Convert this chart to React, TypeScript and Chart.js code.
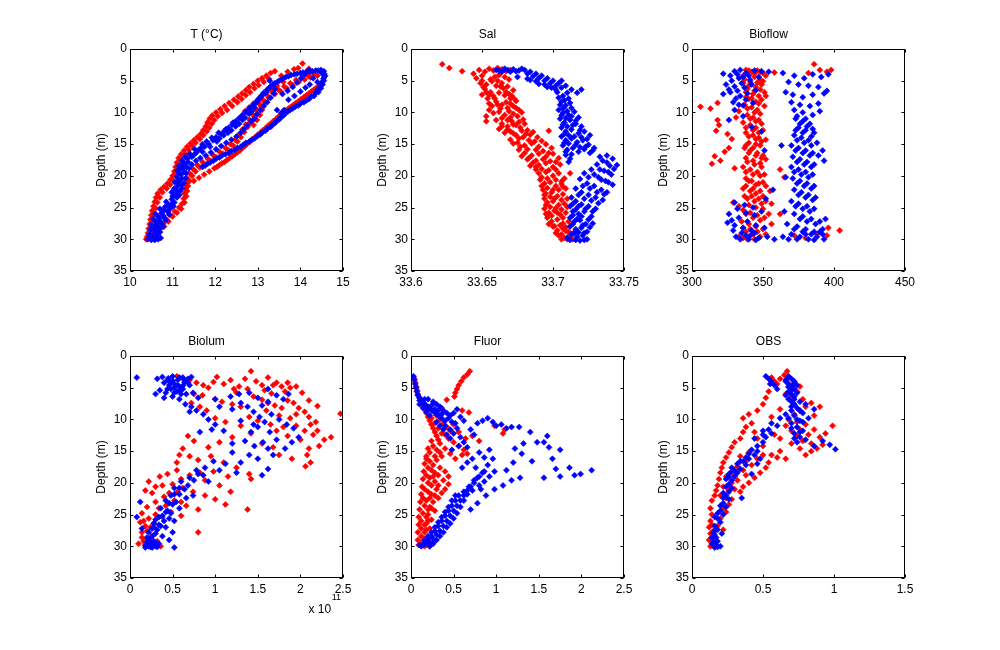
import { useEffect, useRef } from "react";
import { Chart, registerables } from "chart.js";

Chart.register(...registerables);

type P = [number, number];

// ---------- tick labels ----------
const depthTicks = [0, 5, 10, 15, 20, 25, 30, 35];
const tTicks = [10, 11, 12, 13, 14, 15];
const salTicks = [33.6, 33.65, 33.7, 33.75];
const bioflowTicks = [300, 350, 400, 450];
const biolumTicks = [0, 0.5, 1, 1.5, 2, 2.5]; // x 10^11
const fluorTicks = [0, 0.5, 1, 1.5, 2, 2.5];
const obsTicks = [0, 0.5, 1, 1.5];
const panelTitles = ["T (°C)", "Sal", "Bioflow", "Biolum", "Fluor", "OBS"];
const depthLabel = "Depth (m)";
const biolumExponent = "11";

// ---------- data: [value, depth] ----------
const tRed: P[] = [
  [10.38,30.0],[10.40,29.6],[10.42,29.0],[10.44,28.3],[10.46,27.6],[10.48,26.9],[10.50,26.2],[10.52,25.5],[10.55,24.8],[10.58,24.1],[10.61,23.4],[10.65,22.8],[10.72,22.2],[10.80,21.7],[10.88,21.2],[10.95,20.6],[11.00,20.0],[11.04,19.3],[11.07,18.6],[11.10,17.9],[11.14,17.2],[11.20,16.6],[11.27,16.0],[11.34,15.4],[11.42,14.9],[11.50,14.4],[11.58,13.9],[11.66,13.4],[11.72,12.8],[11.78,12.2],[11.82,11.6],[11.87,11.0],[11.93,10.5],[12.02,10.0],[12.12,9.5],[12.22,9.0],[12.33,8.5],[12.44,8.0],[12.54,7.5],[12.63,7.0],[12.72,6.5],[12.80,6.0],[12.90,5.5],[13.00,5.0],[13.10,4.6],[13.20,4.2],[13.30,3.8],[13.40,3.5],
  [10.65,29.0],[10.72,28.3],[10.78,27.6],[10.86,26.9],[10.95,26.2],[11.05,25.6],[11.15,25.0],[11.22,24.4],[11.26,23.6],[11.28,22.8],[11.30,22.0],[11.32,21.2],[11.35,20.4],[11.40,19.6],[11.48,18.9],[11.58,18.3],[11.70,17.8],[11.83,17.3],[11.96,16.8],[12.10,16.2],[12.24,15.6],[12.36,15.0],[12.47,14.3],[12.56,13.5],[12.64,12.7],[12.72,11.9],[12.80,11.1],[12.88,10.3],[12.96,9.5],[13.04,8.7],[13.12,8.0],[13.22,7.3],[13.34,6.8],[13.48,6.4],[13.62,5.9],[13.76,5.4],[13.90,4.9],[14.04,4.5],[14.18,4.2],[14.32,4.0],
  [11.50,20.8],[11.62,20.3],[11.74,19.8],[11.86,19.3],[11.98,18.8],[12.10,18.3],[12.22,17.8],[12.34,17.2],[12.46,16.6],[12.58,16.0],[12.70,15.3],[12.82,14.6],[12.94,13.9],[13.06,13.2],[13.18,12.5],[13.30,11.8],[13.42,11.1],[13.54,10.4],[13.66,9.7],[13.78,9.1],[13.90,8.5],[14.02,7.9],[14.14,7.3],[14.26,6.7],[14.38,6.1],[14.48,5.5],
  [12.70,9.8],[12.80,9.2],[12.90,8.6],[13.00,8.0],[13.10,9.6],[13.05,10.4],[12.98,11.2],[12.90,12.0],
  [13.55,4.2],[13.70,3.6],[13.85,3.2],[14.05,2.3],[13.60,5.2],[13.45,5.8],[13.30,6.3],[13.95,3.0],[14.20,3.1],
  [10.44,29.8],[10.48,28.8],[10.50,27.9],[10.54,27.0],[10.56,26.0],[10.60,25.1],[10.64,24.2],[10.70,23.4],[10.76,22.6],[10.86,22.0],[10.94,21.4],[11.02,20.8],[11.08,20.0],[11.12,19.0],[11.16,18.2],[11.22,17.4],[11.30,16.6],[11.38,15.9],[11.46,15.3],[11.54,14.8],[11.64,14.2],[11.72,13.6],[11.80,13.0],[11.86,12.4],[11.92,11.8],[11.98,11.2],[12.06,10.6],[12.16,10.1],[12.28,9.6],[12.40,9.0],[12.52,8.4],[12.62,7.9],[12.72,7.3],[12.82,6.8],[12.92,6.2],[13.02,5.7],[13.14,5.2],[13.26,4.7],
  [10.70,28.8],[10.80,28.0],[10.90,27.2],[11.00,26.4],[11.10,25.8],[11.20,25.2],[11.28,24.2],[11.32,23.2],[11.34,22.4],[11.36,21.6],[11.40,20.8],[11.46,20.0],[11.54,19.3],[11.64,18.7],[11.76,18.2],[11.90,17.7],[12.04,17.1],[12.18,16.5],[12.30,15.9],[12.42,15.2],[12.52,14.6],[12.60,13.9],[12.68,13.1],[12.76,12.3],[12.84,11.5],[12.92,10.7],[13.00,9.9],[13.08,9.1],[13.16,8.4],[13.26,7.7],[13.40,7.1],[13.54,6.7],[13.68,6.2],[13.82,5.7],[13.96,5.2],[14.10,4.8],[14.24,4.5],[14.40,4.2],
  [12.04,18.6],[12.16,18.0],[12.28,17.5],[12.40,16.9],[12.52,16.3],[12.64,15.6],[12.76,14.9],[12.88,14.2],[13.00,13.5],[13.12,12.8],[13.24,12.1],[13.36,11.4],[13.48,10.7],[13.60,10.0],[13.72,9.4],[13.84,8.8],[13.96,8.2],[14.08,7.6],[14.20,7.0],[14.32,6.4],[14.44,5.8]
];
const tBlue: P[] = [
  [10.42,30.0],[10.50,30.1],[10.58,30.1],[10.66,30.0],[10.72,29.8],[10.45,29.3],[10.55,29.2],[10.65,29.3],[10.48,28.5],[10.58,28.5],[10.68,28.4],[10.50,27.7],[10.62,27.6],[10.74,27.5],[10.55,26.8],[10.68,26.7],[10.80,26.6],[10.60,26.0],[10.74,25.9],[10.88,25.6],[10.70,25.2],[10.82,24.9],[10.96,24.5],[10.85,24.1],[10.98,23.7],[11.05,23.0],[10.98,22.6],[11.08,22.2],[11.12,21.6],[11.05,21.0],[11.15,20.8],[11.10,20.2],[11.20,19.8],[11.12,19.2],[11.24,18.8],[11.15,18.4],[11.28,18.0],[11.22,17.6],[11.35,17.3],[11.45,17.0],[11.40,16.5],[11.55,16.4],[11.62,15.9],[11.70,16.2],[11.75,15.4],[11.85,15.0],[11.80,14.6],[11.95,14.4],[12.02,13.9],[12.10,14.1],[12.15,13.4],[12.22,12.9],[12.30,13.2],[12.32,12.4],[12.40,11.9],[12.48,12.2],[12.48,11.4],[12.56,10.9],[12.64,11.2],[12.64,10.4],[12.72,9.9],[12.80,10.2],[12.80,9.4],[12.88,8.9],[12.96,8.4],[13.02,7.9],[13.08,7.4],[13.14,6.9],[13.22,6.4],[13.30,5.9],[13.40,5.4],[13.50,5.0],[13.60,4.6],[13.72,4.3],[13.86,4.0],[14.00,3.8],[14.14,3.6],[14.28,3.5],[14.42,3.4],[14.55,3.5],[14.56,3.9],
  [13.28,5.0],[13.36,5.6],[13.40,6.3],[13.38,7.0],[13.30,7.7],[13.22,8.4],[13.14,9.0],[13.06,9.6],[12.98,10.3],[12.92,11.0],
  [14.56,4.4],[14.55,5.0],[14.52,5.6],[14.48,6.2],[14.42,6.8],[14.32,7.4],[14.20,7.9],[14.08,8.4],[13.95,8.9],[13.82,9.4],[13.70,9.9],[13.60,10.5],[13.50,11.1],[13.40,11.7],[13.30,12.3],[13.18,12.9],[13.05,13.5],[12.92,14.1],[12.80,14.6],[12.66,15.1],[12.52,15.6],[12.38,16.1],[12.24,16.6],[12.10,17.1],[11.96,17.6],[11.82,18.1],[11.70,18.6],
  [14.20,3.3],[14.10,4.0],[14.02,4.6],[13.92,5.3],[13.82,6.0],[13.70,6.6],[13.58,7.1],[14.30,4.6],[14.40,5.2],[14.22,5.6],[14.12,6.1],[14.00,6.7],[13.86,7.4],[13.72,8.0],
  [10.52,29.6],[10.62,29.7],[10.60,28.9],[10.70,28.9],[10.56,28.1],[10.66,28.0],[10.78,28.0],[10.60,27.2],[10.70,27.1],[10.84,27.0],[10.66,26.4],[10.78,26.3],[10.92,26.1],[10.80,25.4],[10.94,25.2],[11.02,24.8],[10.90,24.6],[11.04,24.2],[11.10,23.4],[11.00,23.2],[11.12,22.8],[11.18,22.4],[11.04,22.0],[11.20,21.4],[11.14,21.2],[11.22,20.4],[11.16,19.6],[11.28,19.4],[11.20,18.8],[11.32,18.6],[11.26,18.2],[11.36,17.8],[11.30,17.0],[11.48,16.8],[11.52,15.8],[11.66,15.6],[11.70,15.0],[11.88,15.4],[11.92,14.0],[12.04,14.6],[12.08,13.2],[12.20,13.6],[12.26,12.6],[12.38,12.8],[12.42,11.6],[12.56,11.8],[12.60,10.8],[12.70,10.8],[12.76,10.0],[12.86,9.8],[12.92,9.2],[12.94,8.6],[13.00,8.2],[13.06,7.6],[13.12,7.2],[13.20,6.8],[13.26,6.2],[13.36,5.6],[13.46,5.2],[13.56,4.8],[13.66,4.4],[13.78,4.1],[13.92,3.9],[14.06,3.7],[14.22,3.6],[14.36,3.4],[14.48,3.3],[14.50,3.8],[14.58,4.2],[14.54,4.7],[14.50,5.3],[14.46,5.9],[14.40,6.4],[14.36,6.9],[14.26,7.5],[14.14,8.1],[14.00,8.6],[13.88,9.1],[13.76,9.6],[13.64,10.2],[13.54,10.8],[13.44,11.4],[13.34,12.0],[13.22,12.6],[13.10,13.2],[12.98,13.8],[12.86,14.3],[12.72,14.8],[12.60,15.4],[12.46,15.9],[12.32,16.4],[12.16,16.8],[12.02,17.3],[11.88,17.9],[11.76,18.4],
  [11.55,17.6],[11.65,17.2],[11.78,16.8],[11.90,16.3],[12.02,15.8],[12.14,15.3],[12.26,14.8],[12.38,14.3],[12.50,13.8],[12.60,13.2],[12.68,12.6],[12.76,12.0],[12.84,11.4],[11.45,18.2],[11.38,18.8],[11.32,19.6],[11.30,20.4],[11.26,21.2],[11.22,22.0],[11.16,23.0],[13.45,9.6],[13.55,10.1],[13.62,9.6]
];

const salRed: P[] = [
  [33.622,2.4],[33.627,3.0],[33.636,3.5],[33.644,3.9],[33.648,3.3],[33.650,4.2],[33.652,3.6],[33.655,3.1],[33.658,3.4],[33.661,3.0],[33.664,3.2],[33.667,3.5],[33.670,3.3],[33.650,5.0],[33.653,5.6],[33.656,4.8],[33.659,4.4],[33.662,4.1],[33.666,4.4],[33.669,4.8],[33.652,6.3],[33.656,6.8],[33.660,5.8],[33.664,5.4],[33.668,5.9],[33.672,6.5],[33.650,7.2],[33.654,7.8],[33.658,7.4],[33.662,6.9],[33.666,7.3],[33.670,7.8],[33.674,8.2],[33.655,8.6],[33.660,8.3],[33.664,8.8],[33.668,9.3],[33.672,9.0],[33.676,9.6],[33.655,9.6],[33.658,10.1],[33.662,9.9],[33.666,10.4],[33.670,10.8],[33.675,10.6],[33.679,11.1],[33.653,10.6],[33.653,11.4],[33.660,11.2],[33.664,11.8],[33.668,12.2],[33.672,11.9],[33.677,12.4],[33.682,12.8],[33.662,12.6],[33.666,13.2],[33.670,13.0],[33.674,13.6],[33.679,13.9],[33.684,13.5],[33.689,13.9],[33.697,12.9],[33.670,14.3],[33.675,14.8],[33.680,15.2],[33.685,14.9],[33.690,15.4],[33.695,15.0],[33.699,15.6],[33.676,15.9],[33.680,16.4],[33.685,16.8],[33.690,16.5],[33.695,17.0],[33.700,16.5],[33.704,17.2],[33.682,17.4],[33.686,17.9],[33.690,18.3],[33.695,18.0],[33.700,18.6],[33.705,18.2],[33.688,19.0],[33.690,19.6],[33.695,19.4],[33.700,20.0],[33.704,19.6],[33.712,19.6],[33.708,20.4],[33.691,20.6],[33.694,21.2],[33.698,21.0],[33.702,21.6],[33.706,21.3],[33.709,22.0],[33.693,22.2],[33.695,22.8],[33.699,22.6],[33.703,23.2],[33.707,22.9],[33.710,23.6],[33.694,23.6],[33.696,24.2],[33.700,24.0],[33.704,24.6],[33.708,24.4],[33.694,25.2],[33.697,25.8],[33.701,25.5],[33.705,26.1],[33.709,25.8],[33.696,26.6],[33.699,27.2],[33.703,26.9],[33.707,27.5],[33.711,27.2],[33.700,28.0],[33.703,28.6],[33.707,28.3],[33.711,28.8],[33.715,28.9],[33.704,29.4],[33.708,29.8],[33.711,29.5],[33.714,30.0],
  [33.646,4.6],[33.649,5.4],[33.651,6.0],[33.653,6.8],[33.655,7.2],[33.657,5.1],[33.661,5.0],[33.663,5.9],[33.665,6.2],[33.667,6.8],[33.669,7.1],[33.671,7.4],[33.673,7.9],[33.659,7.8],[33.657,9.0],[33.661,8.8],[33.663,9.4],[33.667,8.4],[33.670,8.6],[33.674,9.3],[33.678,10.0],[33.669,9.8],[33.672,10.2],[33.676,11.5],[33.680,11.8],[33.664,10.9],[33.668,11.2],[33.671,11.4],[33.674,12.0],[33.678,12.9],[33.681,13.4],[33.686,13.1],[33.664,12.2],[33.668,12.7],[33.672,13.3],[33.676,14.1],[33.683,14.4],[33.687,14.6],[33.692,14.5],[33.672,14.9],[33.677,15.4],[33.682,15.8],[33.688,15.9],[33.693,16.1],[33.697,16.4],[33.678,16.9],[33.683,17.2],[33.688,17.6],[33.693,17.4],[33.698,17.7],[33.702,17.8],[33.684,18.4],[33.688,18.6],[33.692,18.9],[33.697,19.1],[33.702,19.0],[33.692,20.2],[33.696,20.4],[33.702,20.6],[33.706,20.9],[33.692,21.6],[33.696,21.9],[33.700,22.2],[33.704,22.2],[33.707,21.7],[33.694,23.0],[33.698,23.3],[33.701,23.6],[33.706,23.8],[33.695,24.6],[33.698,24.9],[33.702,25.1],[33.706,25.3],[33.710,24.9],[33.695,26.0],[33.699,26.3],[33.703,25.8],[33.707,26.6],[33.697,27.6],[33.701,27.9],[33.705,27.8],[33.709,28.1],[33.702,29.0],[33.706,29.2],[33.709,28.7],[33.713,29.3],[33.706,30.0],[33.710,30.0]
];
const salBlue: P[] = [
  [33.660,3.3],[33.664,3.6],[33.668,3.3],[33.672,3.2],[33.676,3.4],[33.680,3.3],[33.684,3.6],[33.688,3.9],[33.692,4.2],[33.696,4.6],[33.700,5.0],[33.704,5.4],[33.675,4.4],[33.682,4.7],[33.688,5.1],[33.694,5.6],[33.699,6.1],[33.706,5.0],[33.709,5.8],[33.713,6.4],[33.717,6.9],[33.720,6.4],[33.703,6.8],[33.707,7.4],[33.711,7.8],[33.706,8.3],[33.709,8.9],[33.713,9.3],[33.704,9.6],[33.707,10.1],[33.711,10.4],[33.715,9.9],[33.718,10.8],[33.705,11.0],[33.708,11.6],[33.712,11.2],[33.716,11.8],[33.720,12.2],[33.706,12.4],[33.709,13.0],[33.713,12.7],[33.718,13.3],[33.722,13.0],[33.726,13.6],[33.706,13.8],[33.709,14.4],[33.713,14.1],[33.717,14.7],[33.721,14.4],[33.725,15.1],[33.729,15.6],[33.707,15.2],[33.710,15.9],[33.714,15.6],[33.718,16.2],[33.722,15.8],[33.726,16.4],[33.709,16.7],[33.712,17.3],[33.738,16.8],[33.742,17.3],[33.745,18.3],[33.740,18.4],[33.735,17.6],[33.731,18.2],[33.736,19.2],[33.741,19.8],[33.727,19.0],[33.722,19.6],[33.732,20.2],[33.737,20.8],[33.742,21.4],[33.719,20.5],[33.724,21.2],[33.729,21.6],[33.734,22.2],[33.738,22.6],[33.716,22.0],[33.720,22.6],[33.725,23.0],[33.730,23.4],[33.735,23.8],[33.713,23.4],[33.716,24.0],[33.720,24.5],[33.725,24.8],[33.730,25.2],[33.712,24.8],[33.714,25.6],[33.718,26.0],[33.722,25.6],[33.727,26.4],[33.712,26.6],[33.715,27.2],[33.719,27.0],[33.723,27.6],[33.728,27.5],[33.712,28.0],[33.716,28.4],[33.720,28.2],[33.724,28.8],[33.713,29.2],[33.717,29.6],[33.721,29.4],[33.724,30.0],[33.716,30.1],[33.710,29.8],
  [33.662,3.4],[33.666,3.1],[33.670,3.6],[33.674,3.5],[33.678,3.1],[33.682,3.9],[33.686,4.3],[33.690,4.6],[33.694,5.0],[33.698,5.4],[33.702,5.8],[33.684,4.9],[33.690,5.5],[33.696,6.0],[33.702,6.4],[33.706,6.1],[33.710,6.9],[33.704,7.7],[33.708,8.1],[33.712,8.5],[33.705,8.8],[33.707,9.4],[33.710,9.8],[33.706,10.5],[33.709,10.9],[33.713,10.6],[33.716,11.3],[33.707,11.9],[33.710,12.2],[33.714,12.0],[33.719,12.8],[33.708,13.4],[33.711,13.6],[33.715,13.8],[33.720,13.9],[33.724,14.2],[33.708,14.8],[33.711,14.9],[33.716,15.1],[33.719,15.5],[33.723,15.4],[33.728,16.0],[33.709,16.2],[33.713,16.6],[33.711,17.8],[33.733,17.0],[33.738,17.9],[33.743,18.9],[33.739,19.4],[33.733,19.0],[33.729,19.8],[33.734,20.6],[33.739,21.0],[33.725,20.2],[33.721,21.6],[33.726,22.0],[33.731,22.6],[33.736,22.9],[33.718,23.0],[33.722,23.6],[33.727,23.9],[33.732,24.3],[33.714,24.4],[33.718,24.8],[33.723,25.2],[33.728,25.6],[33.716,25.3],[33.720,26.4],[33.725,26.9],[33.714,26.2],[33.717,26.8],[33.721,27.8],[33.726,28.1],[33.714,27.6],[33.718,28.9],[33.722,29.0],[33.715,29.0],[33.719,30.2],[33.722,30.1],[33.712,30.1]
];

const bioflowRed: P[] = [
  [338,3.3],[342,3.6],[346,3.4],[350,3.8],[336,4.2],[344,4.4],[348,4.8],[352,4.2],[386,2.4],[390,3.3],[395,3.6],[398,3.3],[382,3.8],[358,3.7],
  [336,5.4],[340,5.8],[345,6.0],[349,5.6],[338,6.8],[343,7.1],[347,7.4],[351,6.8],[340,7.9],[345,8.3],[349,8.0],[337,8.8],[342,9.2],[346,9.6],[318,8.5],[313,9.4],[306,9.1],[333,9.8],
  [339,10.4],[343,10.8],[347,11.2],[336,11.6],[341,12.0],[345,12.4],[350,12.8],[338,13.2],[343,13.6],[347,14.0],[352,14.3],[340,14.8],[345,15.0],[318,11.2],[319,12.0],[317,12.9],[325,13.4],[328,14.2],[331,10.8],
  [337,15.6],[341,16.0],[346,16.4],[350,16.8],[338,17.2],[343,17.6],[348,18.0],[352,17.4],[336,18.6],[341,19.0],[346,19.4],[351,19.8],[316,16.9],[314,18.1],[320,17.6],[323,16.2],[326,15.6],[330,18.8],[362,19.0],[365,20.2],
  [338,20.4],[342,20.8],[347,21.2],[352,21.6],[336,22.0],[341,22.4],[345,22.8],[350,23.2],[355,22.4],[339,23.6],[344,24.0],[349,24.4],[333,24.8],[329,24.2],[356,24.4],
  [336,25.4],[341,25.8],[346,26.2],[351,26.6],[335,27.2],[340,27.6],[345,28.0],[350,28.4],[356,27.6],[362,26.0],[338,28.8],[343,29.2],[333,29.6],[348,29.6],[339,30.0],[396,28.2],[404,28.6],[395,29.4],[388,29.2],[380,29.8],[372,29.4],
  [340,3.4],[344,3.9],[348,3.6],[337,4.8],[341,5.2],[346,5.3],[350,5.1],[339,6.3],[344,6.6],[348,6.4],[352,7.4],[338,7.6],[342,7.8],[347,8.6],[351,9.0],[339,9.4],[344,10.0],[348,10.2],[341,11.0],[345,11.4],[349,11.8],[338,12.4],[343,12.8],[347,13.2],[340,13.8],[345,14.2],[349,14.6],[338,15.2],[343,15.6],[348,15.2],[340,16.4],[345,16.8],[349,17.2],[339,17.8],[344,18.2],[349,18.6],[338,19.4],[343,19.8],[348,20.0],[340,20.8],[345,21.4],[350,21.0],[338,21.6],[343,22.0],[348,22.4],[337,23.2],[342,23.2],[347,23.6],[352,24.0],[340,24.6],[345,25.0],[350,25.2],[338,26.0],[343,26.6],[348,27.0],[336,28.2],[341,28.4],[346,28.8],[352,29.2],[336,29.8],[344,30.0],[354,26.0]
];
const bioflowBlue: P[] = [
  [322,3.9],[330,3.5],[334,3.3],[338,3.8],[344,3.4],[349,3.5],[354,3.6],[327,4.2],[333,4.6],[341,4.9],[347,4.4],[324,5.6],[330,5.9],[337,6.1],[345,6.5],[322,7.1],[327,6.8],[334,7.4],[329,8.4],[336,8.9],[343,8.5],[330,9.6],[326,11.2],[336,10.6],[342,12.3],[349,13.0],[351,16.0],[357,22.2],[352,23.6],
  [330,24.2],[337,24.6],[343,25.0],[349,25.6],[326,26.0],[328,27.0],[325,27.4],[333,26.6],[339,27.2],[345,27.8],[351,28.2],[329,28.6],[335,29.0],[341,29.4],[347,29.8],[331,29.6],[340,30.0],[345,30.1],[353,29.6],
  [364,3.8],[372,4.2],[379,4.6],[385,4.0],[391,4.4],[396,4.0],[368,5.2],[375,5.6],[382,5.8],[389,6.0],[395,6.6],[366,6.8],[371,7.2],[378,7.6],[385,7.2],[393,7.0],[370,8.4],[376,8.8],[383,9.0],[389,8.6],[372,9.6],[378,10.0],[385,10.4],[390,9.8],
  [373,11.0],[378,11.4],[383,11.8],[375,12.4],[380,12.8],[386,13.2],[372,13.6],[377,14.0],[382,14.4],[388,14.8],[370,15.2],[375,15.6],[380,16.0],[385,16.4],[389,16.8],[371,17.0],[376,17.4],[381,17.8],[386,18.2],[393,17.6],[370,18.6],[375,19.0],[380,19.4],[385,19.8],[371,20.4],[376,20.8],[381,21.2],[386,21.6],[363,15.2],[366,20.2],[392,16.0],
  [372,22.2],[377,22.6],[382,23.0],[387,23.4],[370,24.0],[375,24.4],[381,24.8],[386,25.2],[365,25.6],[372,26.0],[378,26.4],[384,26.8],[390,27.2],[394,26.8],[367,27.6],[374,28.0],[380,28.4],[386,28.8],[392,28.4],[370,29.2],[376,29.6],[382,30.0],[388,29.6],[393,30.0],[364,29.6],[358,30.0],
  [374,10.6],[380,11.0],[376,11.8],[381,12.2],[385,12.6],[373,12.8],[378,13.2],[384,13.8],[374,14.4],[379,14.8],[384,15.2],[373,16.0],[378,16.4],[383,16.8],[374,17.8],[379,18.2],[384,18.6],[372,19.4],[377,19.8],[382,20.2],[374,21.2],[379,21.6],[384,22.0],[375,23.0],[380,23.4],[385,23.8],[373,24.8],[378,25.2],[383,25.6],[376,26.8],[381,27.2],[387,27.6],[372,28.4],[378,28.8],[384,29.2],[390,28.8],[374,30.0],[380,29.2],[386,30.1],[368,30.0],[392,29.2],[332,4.0],[336,4.4],[340,4.2],[328,5.0],[335,5.4],[342,5.6],[326,6.4],[332,6.6],[339,7.0],[331,7.8],[338,8.0],[333,8.8],[332,25.2],[338,25.8],[344,26.2],[330,27.8],[336,28.2],[342,28.6],[334,30.0],[338,29.4],[344,29.0]
];

// Biolum values in units of 10^11
const biolumRed: P[] = [
  [0.55,3.2],[0.62,3.5],[0.70,3.8],[0.78,4.2],[0.86,4.6],[0.92,5.0],[0.98,4.1],[1.02,3.3],[1.10,4.4],[1.18,3.8],[1.22,5.2],[1.28,4.8],[1.35,3.6],[1.42,2.4],[1.48,4.0],[1.55,4.6],[1.58,5.4],[1.62,3.4],[1.66,5.9],[1.72,4.2],[1.78,4.8],[1.82,5.6],[1.88,5.0],[1.95,4.8],[2.02,5.8],[0.60,5.4],[0.75,6.0],[0.85,6.2],[1.00,6.8],[1.08,7.2],[1.20,7.6],[1.30,8.0],[1.45,6.4],[1.55,6.9],[1.62,7.4],[1.70,7.8],[1.78,8.2],[1.85,7.0],[1.92,7.4],[1.98,8.2],[2.05,8.8],[2.20,7.9],[1.60,8.6],[1.75,9.4],[1.88,9.8],[1.95,9.2],[2.10,9.6],[2.18,10.4],[2.47,9.1],[1.40,9.6],[1.50,10.2],[1.65,10.8],[1.80,11.2],[1.95,11.0],[2.05,11.8],[2.15,12.4],[2.20,11.8],[2.28,13.2],[2.36,12.8],[2.22,14.2],[2.08,15.6],[2.12,16.8],[2.06,17.4],[1.90,16.2],[1.75,15.6],[1.55,13.8],[1.42,12.2],[1.30,11.0],[1.20,12.8],[1.12,10.4],[1.00,9.8],[0.90,8.6],[0.82,8.0],[0.72,7.4],[1.05,13.6],[0.92,14.4],[0.68,12.6],[0.75,13.4],[0.62,14.6],[0.58,15.6],[0.55,16.8],[0.70,15.8],[0.80,16.4],[0.95,15.8],[1.10,16.8],[1.25,17.6],[1.40,18.6],[1.42,19.4],[1.15,19.0],[0.98,18.2],[0.82,18.4],[0.70,18.8],[0.55,18.0],[0.44,18.6],[0.35,19.0],[0.22,19.8],[0.18,21.2],[0.26,21.6],[0.38,20.4],[0.50,20.2],[0.62,20.8],[0.74,21.4],[0.88,22.0],[1.00,22.6],[1.12,23.4],[1.38,24.2],[0.80,24.2],[0.66,23.6],[0.52,22.8],[0.40,22.2],[0.30,23.0],[0.20,23.8],[0.14,24.8],[0.12,26.2],[0.18,26.8],[0.28,26.4],[0.38,25.4],[0.48,24.6],[0.60,25.2],[0.80,27.8],[0.14,28.6],[0.10,29.6],[0.18,29.8],[0.26,28.4],[0.32,29.2],[0.36,30.0],[0.20,27.6],
  [0.16,29.2],[0.22,29.4],[0.28,29.8],[0.14,27.8],[0.20,28.8],[0.24,27.0],[0.16,26.0],[0.22,25.6],[0.30,25.0],[0.34,24.0],[0.42,23.6],[0.46,21.6],[0.56,21.4],[0.30,20.6],[0.60,19.4],[0.88,19.6],[1.05,20.4],[1.18,21.4],[0.60,23.0],[1.25,5.8],[1.38,5.2],[1.68,4.6],[1.85,4.2],[2.10,7.0],[2.12,10.8],[1.72,11.8],[1.85,12.6],[2.00,13.2],[2.10,14.6],[1.68,14.4]
];
const biolumBlue: P[] = [
  [0.08,3.4],[0.32,3.6],[0.38,3.3],[0.45,3.5],[0.50,3.2],[0.56,3.8],[0.62,3.4],[0.68,3.6],[0.72,3.3],[0.40,4.2],[0.46,4.6],[0.52,4.4],[0.58,4.8],[0.64,4.2],[0.70,4.6],[0.35,5.4],[0.42,5.8],[0.48,5.2],[0.55,5.6],[0.62,5.2],[0.30,6.0],[0.40,6.6],[0.50,6.4],[0.58,6.8],[0.66,6.0],[0.74,5.8],[0.80,6.6],[0.65,7.6],[0.72,8.0],[0.78,8.6],[0.70,8.8],[0.86,9.2],[0.92,10.0],[1.00,10.8],[0.96,11.6],[1.05,8.0],[1.00,6.8],[1.18,6.4],[1.28,6.0],[1.40,5.8],[1.50,6.6],[1.62,5.2],[1.72,6.2],[1.80,6.8],[1.86,6.0],[1.20,8.4],[1.30,7.4],[1.38,8.0],[1.45,8.8],[1.55,7.8],[1.62,7.2],[1.52,9.6],[1.58,10.4],[1.66,9.2],[1.75,10.0],[1.84,10.8],[1.92,11.4],[1.98,12.8],[1.90,13.6],[1.82,14.6],[1.72,13.2],[1.64,12.0],[1.50,11.2],[1.42,12.0],[1.35,13.4],[1.46,14.2],[1.56,13.6],[1.62,14.6],[1.68,15.6],[1.62,17.8],[1.55,18.8],[1.50,16.2],[1.40,15.6],[1.30,16.8],[1.20,15.2],[1.12,17.0],[1.25,18.4],[1.05,18.0],[0.98,16.6],[0.88,17.6],[0.80,18.6],[0.92,19.8],[0.75,19.6],[0.68,20.4],[0.60,19.8],[0.52,20.8],[0.58,21.8],[0.66,22.4],[0.74,22.0],[0.48,22.0],[0.42,22.8],[0.50,23.4],[0.58,24.0],[0.44,24.4],[0.36,24.0],[0.38,25.2],[0.46,25.6],[0.52,26.0],[0.30,25.8],[0.34,26.6],[0.42,27.0],[0.50,27.8],[0.26,27.2],[0.30,28.0],[0.38,28.4],[0.46,29.0],[0.52,30.2],[0.20,28.6],[0.24,29.2],[0.28,29.8],[0.32,30.1],[0.18,29.9],[0.14,27.2],[0.12,23.0],[0.08,25.4],[0.18,30.2],[0.22,30.0],[0.26,30.2],[1.45,10.8],[1.30,10.2],[1.10,11.8],[1.20,13.8],[0.82,12.0],
  [0.20,29.4],[0.24,29.6],[0.28,29.2],[0.22,28.8],[0.26,28.4],[0.30,29.4],[0.34,29.6],[0.24,30.1],[0.30,30.0],[0.22,27.8],[0.28,27.0],[0.32,27.4],[0.36,26.8],[0.28,26.4],[0.34,25.4],[0.40,26.0],[0.42,24.6],[0.48,24.8],[0.46,23.2],[0.54,23.0],[0.52,21.8],[0.58,20.8],[0.64,21.0],[0.70,19.2],[0.78,18.0],[0.86,18.8],[0.44,3.8],[0.50,3.9],[0.58,3.4],[0.64,3.9],[0.48,4.2],[0.56,4.6],[0.62,4.7],[0.68,4.2],[0.52,5.0],[0.58,5.4],[0.44,5.2],[0.52,5.8],[0.60,6.0]
];

const fluorRed: P[] = [
  [0.69,2.4],[0.66,2.9],[0.62,3.4],[0.59,4.0],[0.56,4.6],[0.54,5.2],[0.52,5.8],[0.51,6.4],[0.42,6.9],[0.60,8.6],[0.68,8.9],
  [0.04,3.6],[0.05,4.2],[0.06,4.8],[0.07,5.4],[0.08,6.0],[0.10,6.6],[0.12,7.2],[0.14,7.8],[0.16,8.4],[0.18,9.0],[0.20,9.6],[0.22,10.2],[0.24,10.8],[0.26,11.4],[0.28,12.0],[0.30,12.6],[0.32,13.2],[0.34,13.8],[0.24,13.4],[0.20,14.6],[0.18,15.8],[0.16,17.0],[0.15,18.2],[0.14,19.4],[0.13,20.6],[0.12,21.8],[0.11,23.0],[0.10,24.2],[0.09,25.4],[0.09,26.6],[0.08,27.8],[0.08,29.0],[0.09,29.8],
  [0.20,8.0],[0.26,8.6],[0.30,9.4],[0.34,10.0],[0.38,10.6],[0.42,11.2],[0.46,11.8],[0.40,12.4],[0.44,13.0],[0.50,13.6],[0.56,14.2],[0.62,14.8],[0.66,15.4],[0.60,15.6],[0.52,16.2],[0.46,15.4],[0.40,14.6],[0.36,15.8],[0.30,16.4],[0.26,17.2],[0.34,17.6],[0.40,18.2],[0.44,19.0],[0.38,19.6],[0.32,18.8],[0.28,19.8],[0.24,20.4],[0.30,21.0],[0.36,21.6],[0.40,21.0],[0.44,20.2],[0.32,22.4],[0.26,23.0],[0.22,23.8],[0.28,24.4],[0.20,25.0],[0.24,25.8],[0.18,26.4],[0.22,27.2],[0.16,27.8],[0.20,28.6],[0.14,29.2],[0.18,29.8],[0.22,30.0],[0.26,29.4],[0.30,9.0],[0.36,8.2],[0.24,9.8],[0.28,10.6],[0.32,11.4],[0.36,12.2],[0.98,11.0],[1.08,12.2],[1.10,11.6],[0.72,12.6],[0.80,13.4],[0.64,13.0],[0.56,12.0],[0.50,10.8],
  [0.18,16.2],[0.22,16.6],[0.20,17.6],[0.24,18.0],[0.28,18.4],[0.18,18.8],[0.22,19.2],[0.26,19.0],[0.20,20.0],[0.32,20.4],[0.16,21.0],[0.20,21.4],[0.24,21.8],[0.28,22.0],[0.14,22.4],[0.18,22.8],[0.22,22.4],[0.16,23.6],[0.20,24.2],[0.24,24.0],[0.14,24.8],[0.18,25.4],[0.12,26.0],[0.16,26.6],[0.20,26.0],[0.12,27.2],[0.18,27.4],[0.12,28.4],[0.16,28.8],[0.12,29.6],[0.16,30.0],[0.26,14.2],[0.30,14.8],[0.34,15.2],[0.28,15.8],[0.22,15.2]
];
const fluorBlue: P[] = [
  [0.03,3.2],[0.04,3.8],[0.05,4.4],[0.06,5.0],[0.07,5.6],[0.08,6.2],[0.10,6.6],[0.12,7.0],[0.15,7.4],[0.18,7.8],[0.21,8.2],[0.24,8.6],[0.28,9.0],[0.32,9.4],[0.36,9.8],[0.40,10.2],[0.10,7.6],[0.14,8.2],[0.18,8.8],[0.22,9.4],[0.20,6.8],[0.26,7.2],[0.30,7.6],[0.34,8.0],[0.38,8.6],[0.42,9.0],[0.46,9.4],[0.50,9.0],[0.54,8.4],[0.58,9.6],[0.62,10.2],[0.30,10.4],[0.34,11.0],[0.38,11.6],[0.42,12.4],[0.46,13.0],[0.50,12.2],[0.54,11.4],[0.58,12.8],[0.62,13.6],[0.66,14.4],[0.56,14.2],[0.48,14.8],[0.70,11.6],[0.74,12.4],[0.78,10.6],[0.84,10.2],[0.90,9.8],[0.96,10.4],[1.00,11.0],[1.06,10.8],[1.12,11.4],[1.18,11.2],[1.27,11.2],[1.40,12.0],[1.32,13.8],[1.22,14.6],[1.48,13.6],[1.56,13.6],[1.60,12.6],[1.62,14.4],[1.75,14.8],[1.66,16.2],[1.70,17.8],[1.86,17.6],[1.92,18.8],[2.12,18.0],[1.99,18.6],[1.75,19.0],[1.56,19.2],[1.42,16.6],[1.30,15.4],[1.20,16.8],[1.12,18.0],[1.28,19.2],[1.18,19.6],[1.08,20.4],[0.98,21.0],[0.88,22.0],[0.78,23.2],[0.80,15.2],[0.86,16.0],[0.92,14.8],[0.96,16.2],[0.90,17.2],[0.84,18.4],[0.78,19.2],[0.74,20.0],[0.68,20.6],[0.62,21.4],[0.56,22.0],[0.52,22.8],[0.48,23.6],[0.44,24.4],[0.40,25.2],[0.36,26.0],[0.32,26.8],[0.28,27.6],[0.24,28.4],[0.20,29.0],[0.16,29.6],[0.12,30.0],[0.10,29.8],[0.58,23.8],[0.54,24.8],[0.50,25.6],[0.46,26.4],[0.42,27.0],[0.38,27.8],[0.34,28.4],[0.30,29.0],[0.26,29.6],[0.22,30.0],[0.62,22.8],[0.66,21.8],[0.72,21.2],[0.80,20.4],[0.86,19.8],[0.92,19.0],[0.98,18.2],[0.60,17.6],[0.66,16.8],[0.72,16.2],[0.76,17.6],[0.82,21.0],[0.70,24.2],
  [0.14,29.8],[0.18,29.4],[0.22,29.4],[0.26,28.8],[0.30,28.2],[0.34,27.6],[0.38,26.8],[0.42,26.0],[0.46,25.2],[0.50,24.4],[0.54,23.6],[0.58,22.8],[0.62,22.0],[0.66,21.2],[0.70,20.6],[0.74,19.6],[0.80,19.0],[0.86,18.2],[0.16,29.0],[0.20,28.4],[0.24,27.8],[0.28,27.0],[0.32,26.2],[0.36,25.4],[0.40,24.6],[0.44,23.8],[0.48,22.8],[0.52,22.0],[0.10,7.0],[0.14,7.6],[0.16,6.8],[0.24,7.8],[0.28,8.4],[0.32,8.6],[0.36,9.2],[0.44,9.8],[0.48,10.4],[0.40,11.0],[0.46,11.6],[0.52,10.6]
];

const obsRed: P[] = [
  [0.67,2.4],[0.65,3.0],[0.68,3.4],[0.62,3.6],[0.60,4.4],[0.58,4.0],[0.56,3.4],[0.72,4.2],[0.76,4.8],[0.74,5.6],[0.70,6.4],[0.78,6.8],[0.84,7.4],[0.80,8.0],[0.76,8.6],[0.72,9.2],[0.68,10.0],[0.66,11.0],[0.70,11.8],[0.74,12.6],[0.78,13.4],[0.82,12.4],[0.86,11.6],[0.90,12.8],[0.94,12.2],[0.99,11.0],[0.92,14.0],[0.88,14.6],[0.84,13.8],[0.80,15.6],[0.76,14.6],[0.70,13.8],[0.62,15.0],[0.66,16.2],[0.60,16.0],[0.56,15.6],[0.54,16.8],[0.52,17.6],[0.48,18.4],[0.44,19.2],[0.40,20.0],[0.36,20.6],[0.34,21.4],[0.50,14.2],[0.46,13.0],[0.44,12.0],[0.42,10.6],[0.40,9.2],[0.46,8.6],[0.50,7.6],[0.52,6.6],[0.54,5.6],[0.36,9.8],[0.38,11.2],[0.36,12.0],[0.34,13.0],[0.30,13.6],[0.28,14.4],[0.26,15.2],[0.24,16.0],[0.22,16.8],[0.21,17.6],[0.20,18.4],[0.19,19.4],[0.18,20.4],[0.17,21.2],[0.16,22.0],[0.14,22.8],[0.13,24.0],[0.14,25.0],[0.13,26.0],[0.12,27.0],[0.13,28.0],[0.12,29.0],[0.13,30.0],[0.16,29.6],[0.22,27.4],[0.24,24.6],[0.26,23.4],[0.28,22.6],[0.30,21.0],[0.32,19.6],[0.36,18.0],[0.38,16.6],[0.40,15.2],[0.34,15.8],[0.58,12.4],[0.62,8.4],[0.56,9.6],[0.90,8.0],[0.86,9.4],
  [0.14,26.6],[0.15,27.6],[0.14,28.6],[0.15,29.4],[0.16,28.2],[0.18,26.8],[0.20,25.6],[0.22,24.0],[0.24,22.4],[0.26,21.2],[0.28,20.0],[0.30,18.8],[0.32,17.4],[0.24,19.0],[0.22,20.6],[0.20,22.0],[0.46,16.2],[0.50,15.6],[0.42,17.2],[0.38,18.8],[0.68,4.8],[0.66,6.0],[0.72,7.6],[0.74,10.4],[0.80,10.8],[0.76,11.6],[0.62,13.0],[0.84,15.0]
];
const obsBlue: P[] = [
  [0.52,3.2],[0.54,3.6],[0.56,4.0],[0.58,4.6],[0.60,5.2],[0.55,4.4],[0.68,3.2],[0.70,3.6],[0.72,4.0],[0.68,4.4],[0.70,4.8],[0.72,5.2],[0.68,5.6],[0.70,6.0],[0.72,6.4],[0.68,6.8],[0.66,3.8],[0.74,4.6],[0.74,5.8],[0.70,7.2],[0.72,7.6],[0.76,7.2],[0.80,7.6],[0.86,8.4],[0.74,8.2],[0.70,8.6],[0.66,9.2],[0.72,9.4],[0.78,9.0],[0.82,9.8],[0.76,10.2],[0.70,10.6],[0.74,11.2],[0.78,11.8],[0.72,12.2],[0.76,12.8],[0.80,13.2],[0.74,13.6],[0.62,9.8],[0.60,11.0],[0.56,10.6],[0.97,14.0],[1.01,14.7],[0.86,14.2],[0.92,13.4],[0.56,12.2],[0.52,12.8],[0.50,13.6],[0.46,14.2],[0.42,14.8],[0.44,15.6],[0.40,16.2],[0.36,16.6],[0.38,17.2],[0.34,17.8],[0.32,18.4],[0.30,19.0],[0.28,19.6],[0.26,20.2],[0.28,20.8],[0.26,21.4],[0.24,22.0],[0.26,22.6],[0.22,23.2],[0.24,23.8],[0.20,24.4],[0.22,25.0],[0.18,25.6],[0.20,26.2],[0.16,26.8],[0.18,27.4],[0.15,28.0],[0.17,28.6],[0.15,29.2],[0.17,29.8],[0.20,30.0],[0.16,30.2],[0.21,28.0],[0.35,22.4],[0.42,18.6],[0.46,17.0],[0.48,16.2],[0.30,18.0],[0.28,18.2],[0.24,19.4],[0.26,19.0],[0.44,13.0],[0.50,11.8],
  [0.66,4.0],[0.68,4.9],[0.72,4.4],[0.70,5.4],[0.66,6.2],[0.72,6.8],[0.70,8.0],[0.76,8.6],[0.68,9.8],[0.74,10.0],[0.78,10.4],[0.70,11.4],[0.76,12.0],[0.72,13.0],[0.46,15.0],[0.40,15.4],[0.38,16.0],[0.34,16.6],[0.32,17.0],[0.28,17.6],[0.26,18.6],[0.24,20.6],[0.22,21.6],[0.22,22.4],[0.20,23.6],[0.18,24.8],[0.16,25.4],[0.16,27.6],[0.14,28.6],[0.14,29.6],[0.18,29.2],[0.18,30.1],[0.50,12.4],[0.54,11.6]
];

// ---------- layout ----------
const FONT = "'Liberation Sans', Arial, Helvetica, sans-serif";
const AX_W = 213;
const AX_H = 222;
const PAD_L = 60;
const PAD_T = 35;
const PAD_R = 40;
const PAD_B = 45;
const colLeft = [130, 411, 692];
const rowTop = [49, 356];

const fmt = (v: number) => String(Number(v.toFixed(4)));

const matlabBox = {
  id: "matlabBox",
  afterDatasetsDraw(chart: any, _args: any, opts: any) {
    const { ctx, chartArea: a, scales } = chart;
    const xs = scales.x;
    const ys = scales.y;
    const L = Math.round(a.left) + 0.5;
    const R = Math.round(a.right) - 0.5;
    const T = Math.round(a.top) + 0.5;
    const B = Math.round(a.bottom) - 0.5;
    ctx.save();
    ctx.strokeStyle = "#000";
    ctx.lineWidth = 1;
    ctx.strokeRect(L, T, R - L, B - T);
    const tl = 3;
    ctx.beginPath();
    xs.ticks.forEach((t: any) => {
      const px = Math.round(xs.getPixelForValue(t.value)) + 0.5;
      ctx.moveTo(px, B); ctx.lineTo(px, B - tl);
      ctx.moveTo(px, T); ctx.lineTo(px, T + tl);
    });
    ys.ticks.forEach((t: any) => {
      const py = Math.round(ys.getPixelForValue(t.value)) + 0.5;
      ctx.moveTo(L, py); ctx.lineTo(L + tl, py);
      ctx.moveTo(R, py); ctx.lineTo(R - tl, py);
    });
    ctx.stroke();
    if (opts && opts.exponent) {
      ctx.fillStyle = "#000";
      ctx.textBaseline = "alphabetic";
      ctx.font = `9px ${FONT}`;
      const w2 = ctx.measureText(opts.exponent).width;
      ctx.font = `12px ${FONT}`;
      const base = "x 10";
      const w1 = ctx.measureText(base).width;
      const right = a.right - 2;
      ctx.fillText(base, right - w2 - w1 - 0.5, a.bottom + 35);
      ctx.font = `9px ${FONT}`;
      ctx.fillText(opts.exponent, right - w2, a.bottom + 22);
    }
    ctx.restore();
  },
};

type PanelProps = {
  title: string;
  red: P[];
  blue: P[];
  xTicks: number[];
  left: number;
  top: number;
  exponent?: string;
};

function Panel({ title, red, blue, xTicks, left, top, exponent }: PanelProps) {
  const ref = useRef<HTMLCanvasElement | null>(null);
  useEffect(() => {
    if (!ref.current) return;
    const pt = (color: string) => ({
      pointStyle: "rectRot" as const,
      pointRadius: 3,
      pointBorderWidth: 0.6,
      backgroundColor: color,
      borderColor: color,
      showLine: false,
    });
    const chart = new Chart(ref.current, {
      type: "scatter",
      data: {
        datasets: [
          { label: "blue", data: blue.map(([x, y]) => ({ x, y })), ...pt("#0000ff") },
          { label: "red", data: red.map(([x, y]) => ({ x, y })), ...pt("#ff0000") },
        ],
      },
      plugins: [matlabBox],
      options: {
        animation: false,
        responsive: false,
        devicePixelRatio: 1,
        events: [],
        layout: { padding: { left: 0, right: PAD_R, top: 0, bottom: 0 } },
        plugins: {
          legend: { display: false },
          tooltip: { enabled: false },
          title: {
            display: true,
            text: title,
            color: "#000",
            font: { family: FONT, size: 12, weight: "normal", lineHeight: 1.2 },
            padding: { top: PAD_T - 7 - 14.4, bottom: 7 },
          },
          matlabBox: { exponent },
        } as any,
        scales: {
          x: {
            type: "linear",
            min: xTicks[0],
            max: xTicks[xTicks.length - 1],
            afterBuildTicks: (s: any) => { s.ticks = xTicks.map((v) => ({ value: v })); },
            afterFit: (s: any) => { s.height = PAD_B; },
            grid: { display: false, drawTicks: false },
            border: { display: false },
            ticks: {
              color: "#000",
              font: { family: FONT, size: 12 },
              padding: 4,
              maxRotation: 0,
              autoSkip: false,
              callback: (v: any) => fmt(Number(v)),
            },
          },
          y: {
            type: "linear",
            reverse: true,
            min: depthTicks[0],
            max: depthTicks[depthTicks.length - 1],
            afterBuildTicks: (s: any) => { s.ticks = depthTicks.map((v) => ({ value: v })); },
            afterFit: (s: any) => { s.width = PAD_L; },
            grid: { display: false, drawTicks: false },
            border: { display: false },
            title: {
              display: true,
              text: depthLabel,
              color: "#000",
              font: { family: FONT, size: 12, lineHeight: 1.2 },
              padding: { top: 24.3, bottom: 0 },
            },
            ticks: {
              color: "#000",
              font: { family: FONT, size: 12 },
              padding: 3,
              autoSkip: false,
              callback: (v: any) => fmt(Number(v)),
            },
          },
        },
      } as any,
    });
    return () => chart.destroy();
  }, [title, red, blue, xTicks, exponent]);
  const w = AX_W + PAD_L + PAD_R;
  const h = AX_H + PAD_T + PAD_B;
  return (
    <canvas
      ref={ref}
      width={w}
      height={h}
      style={{ position: "absolute", left: left - PAD_L, top: top - PAD_T, width: w, height: h }}
    />
  );
}

export default function App() {
  return (
    <div style={{ position: "absolute", left: 0, top: 0, width: 1000, height: 650, background: "#fff", overflow: "hidden" }}>
      <Panel title={panelTitles[0]} red={tRed} blue={tBlue} xTicks={tTicks} left={colLeft[0]} top={rowTop[0]} />
      <Panel title={panelTitles[1]} red={salRed} blue={salBlue} xTicks={salTicks} left={colLeft[1]} top={rowTop[0]} />
      <Panel title={panelTitles[2]} red={bioflowRed} blue={bioflowBlue} xTicks={bioflowTicks} left={colLeft[2]} top={rowTop[0]} />
      <Panel title={panelTitles[3]} red={biolumRed} blue={biolumBlue} xTicks={biolumTicks} left={colLeft[0]} top={rowTop[1]} exponent={biolumExponent} />
      <Panel title={panelTitles[4]} red={fluorRed} blue={fluorBlue} xTicks={fluorTicks} left={colLeft[1]} top={rowTop[1]} />
      <Panel title={panelTitles[5]} red={obsRed} blue={obsBlue} xTicks={obsTicks} left={colLeft[2]} top={rowTop[1]} />
    </div>
  );
}
